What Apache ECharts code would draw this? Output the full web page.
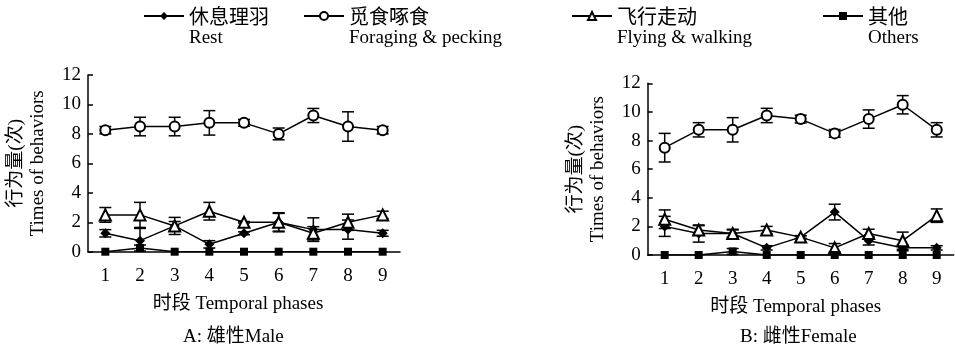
<!DOCTYPE html>
<html>
<head>
<meta charset="utf-8">
<script src="https://cdn.jsdelivr.net/npm/echarts@6/dist/echarts.min.js"></script>
<style>html,body{margin:0;padding:0;background:#fff}#c{width:955px;height:353px}</style>
</head>
<body>
<div id="c"></div>
<script>
// ---- data ----
var categories = ['1','2','3','4','5','6','7','8','9'];
var yTicks = [0, 2, 4, 6, 8, 10, 12];
var seriesNamesCN = ['休息理羽', '觅食啄食', '飞行走动', '其他'];
var seriesNamesEN = ['Rest', 'Foraging & pecking', 'Flying & walking', 'Others'];
var panelTitles = ['A: 雄性Male', 'B: 雌性Female'];
var xAxisName = '时段 Temporal phases';
var yAxisName = '行为量(次)\nTimes of behaviors';

// Male (A)
var maleRest       = [1.25, 0.75, 1.75, 0.5, 1.25, 2.0, 1.5, 1.5, 1.25];
var maleRestErr    = [0.25, 0.83, 0.3, 0.25, 0.1, 0.6, 0.8, 0.65, 0.2];
var maleForage     = [8.25, 8.5, 8.5, 8.75, 8.75, 8.0, 9.25, 8.5, 8.25];
var maleForageErr  = [0.25, 0.63, 0.63, 0.83, 0.23, 0.4, 0.48, 1.0, 0.25];
var maleFly        = [2.5, 2.5, 1.75, 2.75, 2.0, 2.0, 1.25, 2.0, 2.5];
var maleFlyErr     = [0.5, 0.85, 0.58, 0.6, 0.05, 0.65, 0.45, 0.55, 0.25];
var maleOther      = [0, 0.25, 0, 0, 0, 0, 0, 0, 0];
var maleOtherErr   = [0, 0.2, 0, 0, 0, 0, 0, 0, 0];

// Female (B)
var femaleRest      = [2.0, 1.5, 1.5, 0.5, 1.25, 3.0, 1.0, 0.5, 0.5];
var femaleRestErr   = [0.7, 0.6, 0.25, 0.15, 0.1, 0.55, 0.3, 0.2, 0.15];
var femaleForage    = [7.5, 8.75, 8.75, 9.75, 9.5, 8.5, 9.5, 10.5, 8.75];
var femaleForageErr = [1.0, 0.5, 0.85, 0.5, 0.27, 0.27, 0.64, 0.64, 0.5];
var femaleFly       = [2.5, 1.75, 1.5, 1.75, 1.25, 0.5, 1.5, 1.0, 2.75];
var femaleFlyErr    = [0.65, 0.3, 0.3, 0.25, 0.1, 0.3, 0.3, 0.6, 0.47];
var femaleOther     = [0, 0, 0.25, 0, 0, 0, 0, 0, 0];
var femaleOtherErr  = [0, 0, 0.2, 0, 0, 0, 0, 0, 0];

// ---- styling ----
var SERIF = '"Liberation Serif", "Times New Roman", "Noto Sans CJK SC", serif';
var CJK = '"Noto Sans CJK SC", "Liberation Serif", sans-serif';
var FS = 19;
var symbols = ['diamond', 'emptyCircle', 'emptyTriangle', 'rect'];
var symbolSizes = [10, 10, 11, 8];
var legendLefts = [143, 303, 571, 822];

var chart = echarts.init(document.getElementById('c'), null, {renderer: 'canvas'});

var grids = [
  {left: 88, top: 75, width: 312, height: 176.7},
  {left: 647.7, top: 83.3, width: 306, height: 171.7}
];

function xAxis(idx, namePadRight) {
  return {
    type: 'category', gridIndex: idx, data: categories, boundaryGap: true,
    axisLine: {lineStyle: {color: '#000', width: 1.5}},
    axisTick: {inside: true, length: 5, alignWithLabel: false, lineStyle: {color: '#000', width: 1.5}},
    axisLabel: {color: '#000', fontSize: FS, fontFamily: SERIF, margin: 15},
    splitLine: {show: false},
    name: xAxisName, nameLocation: 'middle', nameGap: 43,
    nameTextStyle: {color: '#000', fontSize: FS, fontFamily: SERIF, padding: [0, namePadRight, 0, 0]}
  };
}
function yAxis(idx) {
  return {
    type: 'value', gridIndex: idx, min: yTicks[0], max: yTicks[yTicks.length - 1], interval: yTicks[1] - yTicks[0],
    axisLine: {show: true, lineStyle: {color: '#000', width: 1.5}},
    axisTick: {show: true, inside: true, length: 5, lineStyle: {color: '#000', width: 1.5}},
    axisLabel: {color: '#000', fontSize: FS, fontFamily: SERIF, margin: 7},
    splitLine: {show: false},
    name: yAxisName, nameLocation: 'middle', nameGap: 39, nameRotate: 90,
    nameTextStyle: {color: '#000', fontSize: FS, fontFamily: SERIF, lineHeight: 22}
  };
}

function lineSeries(idx, k, vals) {
  return {
    type: 'line', name: seriesNamesCN[k], xAxisIndex: idx, yAxisIndex: idx,
    data: vals, symbol: symbols[k], symbolSize: symbolSizes[k], showSymbol: true,
    z: 5, silent: true, animation: false,
    lineStyle: {color: '#000', width: 1.5},
    itemStyle: {color: '#000', borderColor: '#000', borderWidth: k === 1 || k === 2 ? 1.5 : 0}
  };
}
function errSeries(idx, vals, errs) {
  return {
    type: 'custom', xAxisIndex: idx, yAxisIndex: idx, z: 3, silent: true, animation: false,
    data: vals.map(function (v, i) { return [i, v, errs[i]]; }),
    encode: {x: 0, y: 1},
    renderItem: function (params, api) {
      var x = api.value(0), v = api.value(1), e = api.value(2);
      if (!e) return null;
      var hi = v + e, lo = Math.max(0, v - e);
      var pH = api.coord([x, hi]), pL = api.coord([x, lo]);
      var hw = 6, st = {stroke: '#000', lineWidth: 1.5};
      var ch = [
        {type: 'line', shape: {x1: pH[0], y1: pH[1], x2: pL[0], y2: pL[1]}, style: st},
        {type: 'line', shape: {x1: pH[0] - hw, y1: pH[1], x2: pH[0] + hw, y2: pH[1]}, style: st}
      ];
      if (v - e > 0) ch.push({type: 'line', shape: {x1: pL[0] - hw, y1: pL[1], x2: pL[0] + hw, y2: pL[1]}, style: st});
      return {type: 'group', children: ch};
    }
  };
}

var series = [];
var male = [[maleRest, maleRestErr], [maleForage, maleForageErr], [maleFly, maleFlyErr], [maleOther, maleOtherErr]];
var female = [[femaleRest, femaleRestErr], [femaleForage, femaleForageErr], [femaleFly, femaleFlyErr], [femaleOther, femaleOtherErr]];
[male, female].forEach(function (set, idx) {
  set.forEach(function (d) { series.push(errSeries(idx, d[0], d[1])); });
  set.forEach(function (d, k) { series.push(lineSeries(idx, k, d[0])); });
});

var legends = seriesNamesCN.map(function (n, i) {
  return {
    data: [n], left: legendLefts[i], top: 6, padding: 0, orient: 'horizontal',
    itemWidth: 40, itemHeight: 10, selectedMode: false,
    formatter: function () { return '{cn|' + seriesNamesCN[i] + '}\n{en|' + seriesNamesEN[i] + '}'; },
    textStyle: {
      padding: [22, 0, 0, 0],
      rich: {
        cn: {fontSize: 20, lineHeight: 22, fontFamily: CJK, color: '#000', align: 'left'},
        en: {fontSize: FS, lineHeight: 22, fontFamily: SERIF, color: '#000', align: 'left'}
      }
    }
  };
});

var option = {
  animation: false,
  backgroundColor: '#fff',
  title: [
    {text: panelTitles[0], left: 183, top: 328, padding: 0, textStyle: {fontSize: FS, fontWeight: 'normal', color: '#000', fontFamily: SERIF}},
    {text: panelTitles[1], left: 740, top: 328, padding: 0, textStyle: {fontSize: FS, fontWeight: 'normal', color: '#000', fontFamily: SERIF}}
  ],
  legend: legends,
  grid: grids,
  xAxis: [xAxis(0, 12), xAxis(1, 10)],
  yAxis: [yAxis(0), yAxis(1)],
  series: series
};
chart.setOption(option);
</script>
</body>
</html>
